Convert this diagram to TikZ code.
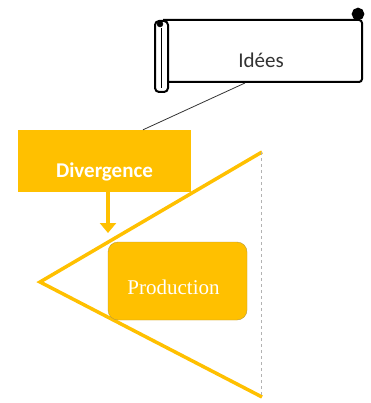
\documentclass[tikz,border=0pt]{standalone}
\usepackage{fontspec}
\usetikzlibrary{arrows.meta}
\setmainfont{Liberation Serif}
\newfontfamily\calibri{Carlito}
\definecolor{gold}{HTML}{FFC000}
\definecolor{goldline}{HTML}{B89A3C}
\begin{document}
\begin{tikzpicture}[x=1pt, y=-1pt]
				\useasboundingbox (0,0) rectangle (370,403);
				% scroll
				\draw[line width=2pt, rounded corners=3pt, fill=white] (163,20) -- (362,20) -- (362,82) -- (163,82);
				\draw[line width=1.6pt, fill=black] (358,14) circle (5.5pt);
				\draw[line width=2pt, rounded corners=4pt, fill=white] (155,21) rectangle (168,92);
				\draw[line width=1pt] (161,28) -- (161,88);
				\draw[fill] (160,24) circle (3pt);
				\node[font=\calibri\fontsize{21}{22}\selectfont, text=black!80] (ideas) at (261,60) {Idées};
				\coordinate (ideaslink) at (245,83);
				% divergence
				\node[fill=gold, minimum width=173pt, minimum height=62pt, font=\calibri\bfseries\fontsize{21}{22}\selectfont, text=white, text depth=0pt] (divergence) at (104.5,161) {\raisebox{-17pt}{Divergence}};
				\draw[line width=0.8pt, black!80] (ideaslink) -- (divergence.north -| 143,0);
				% cone
				\draw[line width=3.5pt, gold, line join=miter] (262,152) -- (40,282) -- (262,397);
				\draw[dashed, black!30] (261,152) -- (261,397);
				\coordinate (arrowtip) at (108,233);
				\draw[line width=3.5pt, gold, -{Triangle[length=10pt, width=16pt]}] (divergence.south -| arrowtip) -- (arrowtip);
				% production
				\node[fill=gold, draw=goldline, rounded corners=10pt, minimum width=139pt, minimum height=78pt, font=\fontsize{21}{22}\selectfont, text=white, text depth=0pt] (production) at (177.5,281) {\hspace*{-8pt}\raisebox{-12pt}{Production}};
			\end{tikzpicture}
\end{document}
